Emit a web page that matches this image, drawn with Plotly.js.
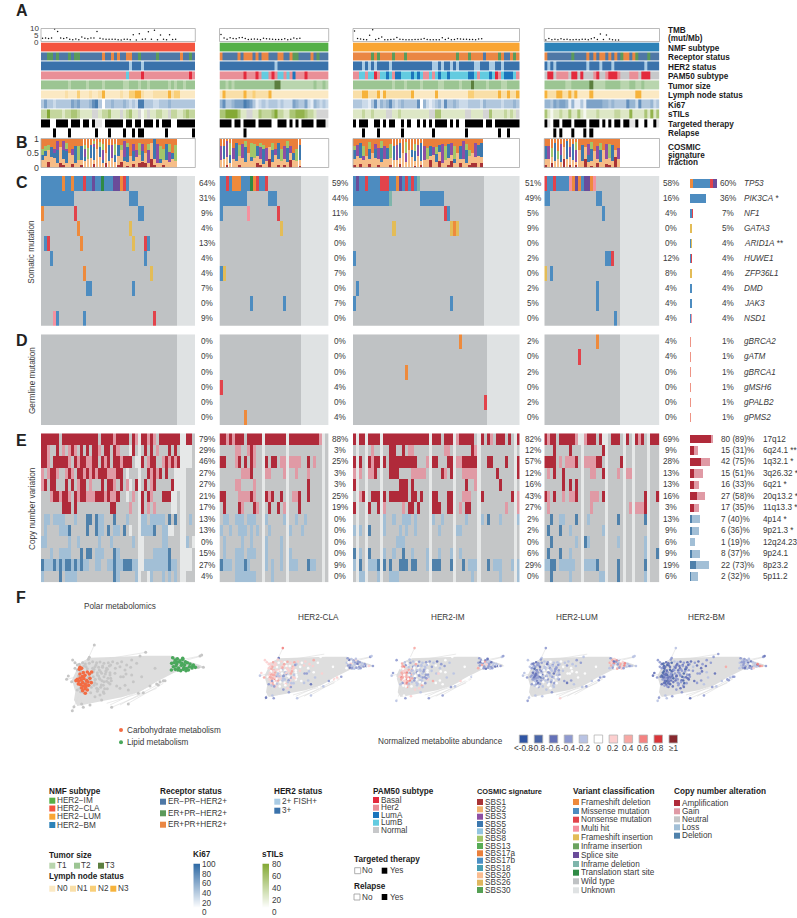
<!DOCTYPE html>
<html><head><meta charset="utf-8">
<script src="https://cdn.plot.ly/plotly-3.0.1.min.js"></script>
<style>html,body{margin:0;padding:0;background:#fff}#c{width:797px;height:918px}</style>
</head><body><div id="c"></div>
<script>
/* ---------- categories ---------- */
const trackLabels=["NMF subtype","Receptor status","HER2 status","PAM50 subtype","Tumor size","Lymph node status","Ki67","sTILs","Targeted therapy","Relapse"];
const genes=["TP53","PIK3CA","NF1","GATA3","ARID1A","HUWE1","ZFP36L1","DMD","JAK3","NSD1"];
const geneStars=[""," *","",""," **","","","","",""];
const germGenes=["gBRCA2","gATM","gBRCA1","gMSH6","gPALB2","gPMS2"];
const cytobands=["17q12","6q24.1 **","1q32.1 *","3q26.32 *","6q21 *","20q13.2 *","11q13.3 *","4p14 *","9p21.3 *","12q24.23","9p24.1","8p23.2","5p11.2"];
const cnvCounts=["80 (89)%","15 (31)%","42 (75)%","15 (51)%","16 (33)%","27 (58)%","17 (35)%","7 (40)%","6 (36)%","1 (19)%","8 (37)%","22 (73)%","2 (32)%"];

/* ---------- per-patient tracks (run-length: count + code) ---------- */
const nmf=["51C","36I","55L","38B"];
const receptor=[
"2B2G1B1G3B1G1B2G7B1O2B1O1B1O2B2O2B1G5B1G7B1O2B1G1B",
"1O5B1O1B3O1B1O1B2O3B2O2B1O2G4B1O1B1G3B",
"6O1G1O1G4O1G3O1G16O1G3O1G4O1B4O1G1O2B1O1G1O",
"1O8B1G4B1O1B1O1B2O1B1O1B1O1B1G2O1B1O1G3B1G3B"];
const her2=["29H1L3H1L17H","18H1L17H","3H1L1H1L1H1L4H1L13H2L1H1L2H1L1H1L5H2L3H2L2H1L5H","1H1L1H1L10H1L3H1L3H1L10H1L4H"];
const pam50=["28P1C4P1R15P1R1P","8P1R3P1R1P2C1P1R1P2C1P1C1P1A3P1R7P",
"2P2C1P2C1R1P2C1A1C1P2A3C1A1C1A1C2P1C1P1C1A2C1A6C2A1C1P3C1A1C1R1P1C3A1C1P",
"1N2R1N4P1N2R1N1R3N1P1R2N1P3R1P3N3P1N3R3N"];
const tumor=["9b1a5b1a4b1a6b2a3b1a2b1a6b1a1b1a2b1a3b","2b1a1b1a13b2c11a1b2a1b1a",
"13b1a3b1a4b1a5b2a5b1a3b1c4b1a4b2a4b2a3b","7b2a6b1c4a5b3a2b2a1b4a"];
const lymph=["8a1b3a1c3a1b2a1b1d5a1b2a2c2d1b3a5b1d1b2c5a","1a1d6b1d2b1c4b1d19a",
"3b2d3b1d1a1d8b1d7a1d10a2c1b7b1d2b1d2b1d","1d3b2d2b1d1b1d4a1d14a2d6a"];
const ki67=["35332 33333 54533 34673 03343 33432 32773 33223 33433 33333 3",
"46334 55576 53123 23332 32225 43352 14323 2",
"33322 13624 34632 34333 36042 12342 63343 22233 33243 33332 33343",
"44354 55414 11315 55554 43433 33644 26333 423"];
const stils=["22522 22122 33211 11XX1 22311 1X123 11X01 X1122 11X22 11232 22X11 1",
"33555 5311X X1132 22352 21133 44432 21XXX X",
"11121 12111 1XX11 21111 11111 XX331 11111 11XX1 111XX 31111 2121X",
"31011 21131 13101 11211 11122 11141 11131 413"];
const targeted=["3Y2N4Y1N3Y1N2Y1N1Y2X1N6Y1N2Y1N2Y1N3Y1N1Y1N3Y2N6Y",
"4Y1N2Y1N4Y1N4Y2N3Y1N1Y1N1Y1N4Y1N3Y1X",
"1Y1N3Y2N2Y1N1Y1N2Y2N1Y1N1Y2N1Y1N1Y1N1Y1N4Y1N1Y1N1Y2N6Y1N2Y1N8Y",
"1Y1X1N2Y1N3Y1N4Y1N3Y1N1Y1N1Y1N2Y1N2Y2X1Y2N1Y2N1Y1X"];
const relapse=["4N1Y4N1Y8N1Y3N1Y4N1Y2N1Y1N2Y7N1Y8N1Y","8N1Y27N",
"3N1Y4N1Y7N1Y9N1Y10N1Y10N1Y2N1Y3N","3N1Y1N1Y3N1Y3N1Y1N1Y22N"];

/* ---------- TMB ---------- */
const tmb1=[2.3,2.6,2.2,2.6,9.8,7.8,2.5,2.2,2.8,1.6,1.2,1.8,1.2,3.4,2.4,1.9,2.5,2.6,7.8,2.4,1.8,1.5,1.6,1.5,1.5,1.2,1.0,1.5,1.6,1.2,5.2,1.0,6.1,1.6,1.8,7.7,1.6,8.8,1.2,5.0,1.5,1.2,5.3,1.3,1.6];
const tmb2=[5.5,2.5,1.6,2.8,2.2,2.0,2.8,3.0,2.2,1.4,1.6,1.8,1.6,1.2,2.4,2.0,1.8,1.6,1.4,1.3,1.4,2.0,1.2,1.6,2.6,2.0,2.4];
const tmb3=[8.3,2.2,1.8,1.4,1.2,4.7,9.2,1.4,2.1,3.3,1.2,1.1,1.3,1.6,3.0,1.6,1.4,1.2,1.2,1.2,1.3,1.4,1.6,2.1,1.4,1.2,1.1,1.1,1.2,2.8,1.4,2.4,1.1,1.4,2.0,1.8,1.6,1.5,1.3,1.4,1.2,1.8,1.9];
const tmb4=[1,2.2,1.2,1.6,1.2,1.9,1.4,1.6,1.2,1.1,1.4,1.2,1.6,1.6,1.2,2,2.8,1.4,5.8,1.4,5,1.8,1.2,1.0,1.0];

/* ---------- COSMIC signature weights per patient (estimated, relative) ---------- */
const sigSBS1=["00200 01100 10010 00200 01000 12010 20231 02100 10000","00100 01000 00210 02001 01020 01","10200 20010 00100 20000 10100 30020 01300 20011 202","10200 02010 20020 10200 21030"];
const sigSBS2=["35444 34332 32323 33344 32333 34322 23412 34322 23333","34423 33432 34332 33343 23322 23","34332 33423 43334 33433 34233 23332 33323 24332 343","34332 33433 23333 34233 33323"];
const sigSBS5=["22042 80490 08062 04804 20804 40280 60060 00902 06020","06040 80090 20408 00608 00802 08","40800 60408 04060 80002 60800 40420 06020 60800 046","60080 40906 00804 80060 00800"];
const sigSBS3=["00002 60420 20004 00200 60040 00800 42040 80080 00600","60804 00600 00060 60020 06020 00","04020 00240 60008 00600 04060 02008 00600 08000 600","06000 60040 80006 00600 80004"];
const sigSBS8=["22200 00040 00602 40202 40006 02020 00600 40006 40408","00060 04040 66022 00400 40400 40","20040 40004 00600 00800 40004 00400 60060 00420 000","00402 00000 60000 40040 06000"];
const sigSBS17a=["43234 12132 33333 32121 33323 22123 33233 31023 42353","33123 22212 22323 42232 33124 33","32233 23231 33233 23223 32233 32422 32233 31343 222","33423 32132 22323 23322 32333"];

/* ---------- somatic mutation rows ---------- */
const somatic1=["7M1F2M1F3M1N2M1S2M1L3M2S1F1N1M16W6U","11M18W3M13W6U","1F10W1N20W2M11W6U","12W1F16W1I15W6U","1W1M1N10W1F16W1I3W1N1M9W6U","3W1M30W1M10W6U","14W1F21W1I8W6U","15W2M13W1M14W6U","45W6U","4W1H1M8W1M22W1N7W6U"];
const somatic2=["2M1N1M3F3M1L1F1N2M1N11W9U","9M7W3M8W9U","1M8W1H9W1N7W9U","20W1I6W9U","27W9U","27W9U","1M1I25W9U","27W9U","10W1M10W1M5W9U","27W9U"];
const somatic3=["1M1S2M1N4M3N2M1F1S1M1N1M1N1M1D21W12U","12M1D9W8M13W12U","30W1N1M11W12U","13W1I18W1I1F1I8W12U","43W12U","1M42W12U","43W12U","1W1M41W12U","1M31W1M10W12U","43W12U"];
const somatic4=["1N2M1N4M1H1F1S1F1M2S1F1H8W13U","2M15W2M6W13U","19W1M5W13U","25W13U","25W13U","20W2M1N2W13U","1I1W1M22W13U","17W1M7W13U","17W1M7W13U","23W1M1W13U"];
const pctSomatic=[[64,31,9,4,13,4,4,7,0,9],[59,44,11,4,0,0,7,0,7,0],[51,49,5,9,0,2,0,2,5,0],[58,16,4,0,0,12,8,4,4,4]];
const totalSomatic=[60,36,7,5,4,4,4,4,4,4];

/* ---------- germline rows ---------- */
const germline1=["45W6U","45W6U","45W6U","45W6U","45W6U","45W6U"];
const germline2=["27W9U","27W9U","27W9U","1N26W9U","27W9U","8W1F18W9U"];
const germline3=["35W1F8W11U","44W11U","17W1F26W11U","44W11U","43W1N11U","44W11U"];
const germline4=["17W1F7W13U","11W1N13W13U","25W13U","25W13U","25W13U","25W13U"];
const pctGermline=[[0,0,0,0,0,0],[0,0,0,4,0,4],[2,0,2,0,2,0],[4,4,0,0,0,0]];
const totalGermline=[1,1,1,1,1,1];

/* ---------- copy number rows ---------- */
const cnv1=["6A1n12A1n4A1G4A1n1A1G1U2A1G1A1G1n7A2U2A1n",
"2A1G2n1A1n1G1n1G1A1G1n1A1n1A1n2A1G1n2A1n1A1G3n1U1A1n1G1n1A1n1A1n1G3n1A1n1A3n2U3n",
"2A1G1n5A1G1n1A1G2A2G2A1n1A1G1A1n2A1G3A1n1U1G1A1n1G2A2n1G1A1G1A1G3A2U1n1G1n",
"1G1n1G2A1G2n1G1A1G1n2A1G1A1G1A1G3A3G2A1n1U3n1G2n1A1G1A1G1A1n1A2n2U1A2n",
"1G1A1n2A3n1A1n1A1n1G2A1n1G3n1A1n2A1G1n1A1n1G1U1n2A1n1A1n1G1A5n1A2U3n",
"3n1G2A1G2A1G1n1A1G2A3G3A1G1A2G1A2n1U1n1G1n1G1A1n1A1G3n3A2U3n",
"7n3A1n1A11n2A4n1G3n1A1n1G1n1G5n2U3n",
"1n2l1n4l3n1l3n2d1n1d2l3n1d3n1l3n1U2l1n5l1n1d1n1d1n2U1n1l1n",
"1n1l4n3l1d5n1d2n1d2l1n1d1n2l1n1d1n1U3n4l1d2n2l2U3n",
"2l7n1l2n1l6n1l3n1l6n1l2n1U6n2l6n1l1n2U3n",
"3n1l2n4l3n1d1n2d1n3l3n1d1l7n1U3n5l1d4n1d2U3n",
"1d3l1d1l1d1l2d1l1d1l1d2l2n2l2n2l1d2l3d2l1n1U8l1d2l3n2U1n1l1n",
"1l5n1d1n4l12n1d1l5n2l2n1U1l3n1l1n1l1n1l6n2U3n"];
const cnv2=["2A1G1A1G3A1n5A1U7A1U10A1G1U1n",
"5n2G2n1G1A1G22n",
"2A3n1G1A1n1A1n1A1G3n1A1n2A1n2G1U4G2n1A1n1G3n",
"7n3G1A4n2G4n1G3n1G3n1G6n",
"5n2G4n1G17n1A5n",
"2A4n4G1A1G3n1A1G1A2n1A3n2G1A2n1A5n",
"1n1A4n1A1G3n1A1G3n1A2n1A1n2G3n1A8n",
"1n2l2n3l1n3l3n1l5n1l3n1l2n1l8n",
"1l2n1l2n3l1n1l1n1l3n1l6n1l3n1l6n",
"1n1l5n1l2n1l4n1l4n1l14n",
"1n1l3n3l1n3l3n1l4n1l2n1l12n",
"1d3l1n3l1d1l5n1l1n1l2n1l2n3l3n1d2l4n",
"5n7l5n1l18n"];
const cnv3=["1A1U2A1U4A1U15A1U3A1n3A1U1G5A1n1U1A1n1A1G1n3A1n1A1n1U1A",
"6n1G5n2A2n1A1n2G10n2G7n1A1G15n",
"1A1n1A2n1A1G2A1n1A1n9A3n1G1n2A3n2A1n2G5A3n2A4n1A3n1A",
"1G1n1G2n2G1A4n3A4n5G5n1A1G1n2A2n5G6n1A5n1A",
"1A14n3A1n1A17n1A2n1G7n1A7n",
"2n1G1A2n3A1n1A1n6A1n2A1n1A3n2A3n2A3n3G3n1A9n1A1n1G1n",
"1A4n1A2n1A1n1G5n1G1n2A1n1A4n3A2n2A2n1G1n2A11n1G3n1G",
"10n1l2n1l2n3l1n1l5n1l2n1l7n1l4n1l1n1d3n1l5n1l",
"1l1n1l2n1d4n1l4n1l1n1l2n1l7n1l5n2l19n",
"14n3l38n",
"1d1n1l2n1d4n1l2n1l2n1d2n1l4n1l3n1l3n1l2n1l19n",
"1l1n1d2n3l1d1n1d1n1d2n3d1n2d3n1l1n3d3n1d3n1d1n3l3n1d1n3l3n1l1n1l",
"2n2l4n1l3n3l24n1l8n1l5n1l"];
const cnv4=["1A1G2A1n5A1G1U1A1G3A1n1A1U1A1n3A1n1U1A1n1U1A1G1A1n1U3A",
"3n1A4n1A10n1A18n",
"4A1n1G1n3G1A2n4G2A1n1A4n1A12n1A",
"1n1G1n1A2n1A8n2G2n1A4n1G2n2G12n",
"6n1A1n1A1n1A27n",
"1A1G1n1A2n1G1n2G1A4n3G1n1A13n1A3n1A",
"1n1G13n1G12n1G1n3G1A4n",
"2n1d2n2l3n1d3n1l9n1d8n1d4n",
"1n1d3n1d2n1l10n1l14n1l3n1d",
"2n1d7n1l2n1d1l9n1l8n1l4n",
"1n1d3n1d2n1l24n1l3n1d",
"2l2d1n5l3n4l1d6n1d8n1d4n",
"2n1d5n1l9n2l4n1d8n1l5n"];
const cnvUnknown=[[32,46,47],[14,22,34],[1,4,9,25,33,41,53],[12,20,26,29,34]];
const pctCnv=[[79,29,46,27,27,21,17,13,13,0,15,27,4],[88,3,25,3,3,25,19,0,0,0,0,9,0],[82,12,57,12,16,43,27,2,2,0,6,29,0],[69,9,28,13,13,16,3,13,9,6,9,19,6]];

/* ---------- summary bars ---------- */
const sumFrameshift=[7.5,0,0,1,1,0,0,0,0,0];
const sumMissense=[37.5,36,4,0,1,3,1,4,4,3];
const sumNonsense=[7.5,0,2,0,1,1,0,0,0,0];
const sumMulti=[0,0,1,0,0,0,0,0,0,1];
const sumFsIns=[0,0,0,4,1,0,3,0,0,0];
const sumSplice=[7.5,0,0,0,0,0,0,0,0,0];
const germBarOrange=[1,0,1,0,0,1];
const germBarRed=[0,1,0,1,1,0];
const barAmp=[80,15,42,15,16,27,17,0,0,0,0,0,0];
const barGain=[9,16,33,36,17,31,18,0,0,0,0,0,0];
const barDel=[0,0,0,0,0,0,0,7,6,1,8,22,2];
const barLoss=[0,0,0,0,0,0,0,33,30,18,29,51,30];

/* ---------- metabolite network (picture units) ---------- */
const hullX=[245,270,440,515,600,612,590,525,470,420,365,310,232,222,226,216,232];
const hullY=[155,143,137,137,165,172,176,187,215,245,262,272,288,270,245,210,175];
const edgeX=[283,265,null,437,300,null,605,560,null,490,360,null,335,470,null,385,490,null,217,235,null,200,232,null,220,240,null,600,530,null,610,540,null,425,320,null,450,330,null,250,240,null,305,270];
const edgeY=[105,145,null,127,150,null,138,150,null,215,285,null,292,235,null,280,220,null,302,260,null,208,200,null,150,170,null,138,152,null,172,172,null,248,280,null,228,285,null,292,255,null,270,250];
const carbX=[240,245,238,250,262,268,275,255,247,240,232,228,236,244,252,260,270,248,256,264,274,242,250,258,266,235,245,255,262,248,256,240];
const carbY=[172,175,178,188,186,192,186,196,200,204,208,212,214,210,206,212,205,218,222,216,218,224,228,230,226,222,234,236,240,242,250,192];
const lipX=[518,525,532,540,548,556,515,522,530,538,546,554,562,570,578,586,520,528,536,544,552,560,568,576,526,534,542,550,558,514,530,548,565,580];
const lipY=[143,150,146,152,148,155,160,158,162,156,160,164,158,162,168,172,170,168,174,166,172,176,170,174,178,180,182,178,182,180,155,145,180,165];
const grayX=[283,437,420,218,225,232,268,265,278,290,300,312,325,338,352,365,380,395,285,296,308,320,332,346,360,375,392,410,280,292,305,318,330,345,362,378,395,225,232,240,205,200,215,285,298,312,330,350,375,425,450,470,480,490,335,385,217,222,250,270,305,245,600,605,610,590,595,465,430,415,400,385,370,360,495,475,290,310,285,300];
const grayY=[105,127,138,150,158,165,142,148,155,158,156,160,158,155,160,155,165,150,170,172,168,175,165,175,170,180,172,160,185,188,190,182,195,190,200,192,195,175,180,235,198,208,215,210,205,215,222,228,226,200,228,222,215,212,292,282,302,290,292,285,270,282,138,135,172,172,172,175,248,250,215,240,200,235,212,225,235,245,260,255];
const denseX=[238,248,258,268,278,288,298,308,318,328,242,252,262,272,282,292,302,312,322,332,236,246,256,266,276,286,296,306,316,326,240,250,260,270,280,290,300,310,320,330,244,254,264,274,284,294,304,314,324,334,232,242,252,262,272,282,292,302,312,322];
const denseY=[163,158,170,160,175,165,180,172,185,168,182,168,176,190,178,195,185,200,178,205,197,205,162,200,188,208,198,212,192,218,215,190,220,210,200,222,208,226,214,188,228,215,205,232,218,238,225,236,205,212,240,245,248,238,248,226,244,232,250,236];
/* abundance class per point: carbohydrate, lipid, other, dense */
const abundCLA="67676 56767 65767 36786 67567 67567 65 | 32436 34564 32345 23344 53432 34345 5433 | 85566 62665 76765 66765 67456 56545 67563 45566 64732 35546 36654 45235 34343 56545 42343 55636 | 67656 76563 76567 46765 67645 36576 76545 45665 36454 63445 34345 45434";
const abundIM ="78767 68877 66867 67588 75678 76876 76 | 33523 43237 43245 23736 33425 32347 5234 | 75535 55445 34334 23543 44535 43454 45544 55553 34554 36754 65543 34536 45435 53543 45655 54766 | 74533 75434 53445 34443 75534 55433 76544 53435 67543 44534 45545 34543";
const abundLUM="33423 24323 33423 22341 33243 34243 34 | 37683 57683 47685 37453 76843 57364 2534 | 35445 34343 54454 44354 34453 54345 43445 55435 44334 43335 45346 53454 34444 34534 54523 34445 | 22334 23433 13244 34233 22345 43334 23445 34553 43555 54345 34534 45345";
const abundBM ="12231 11322 12131 21322 13122 31212 21 | 34334 24334 25442 34334 23443 24334 3468 | 43333 23344 23223 23322 23342 22342 33533 24332 22323 32232 43432 34343 34323 87743 44333 33332 | 12213 22312 11222 33122 12233 23132 22323 33123 22323 32133 23322 23323";

/* ---------- legends ---------- */
const abundLabels=["<-0.8","-0.8","-0.6","-0.4","-0.2","0","0.2","0.4","0.6","0.8","≥1"];
const abundColors=["#2f55a4","#4a66a8","#6471b8","#8f9ad0","#b9c3e3","#ffffff","#fccfcf","#f7a8a4","#f38281","#d9353a","#87282e"];
const sigNames=["SBS1","SBS2","SBS3","SBS5","SBS6","SBS8","SBS13","SBS17a","SBS17b","SBS18","SBS20","SBS26","SBS30"];
const sigColors=["#a93336","#f1b26f","#8e4fa4","#3c78ae","#92c5e0","#a2c66a","#57ac56","#ea7f3b","#4a8fc4","#479eb3","#fbbd91","#dfb65e","#55a054"];
const variantNames=["Frameshift deletion","Missense mutation","Nonsense mutation","Multi hit","Frameshift insertion","Inframe insertion","Splice site","Inframe deletion","Translation start site","Wild type","Unknown"];
const variantColors=["#ee8a3c","#4d8cc0","#e2434b","#f5919f","#e3bc57","#6ba35f","#6b4c9a","#7fb5ab","#2f8a45","#bfc2c4","#dfe2e3"];
const cnaNames=["Amplification","Gain","Neutral","Loss","Deletion"];
const cnaColors=["#b02a3a","#e09aa5","#c4c6c7","#a2bfd6","#4f81ab"];
const nmfNames=["HER2−IM","HER2−CLA","HER2−LUM","HER2−BM"];
const nmfColors=["#55b047","#f4543f","#f9a533","#2c82b8"];
const recNames=["ER−PR−HER2+","ER+PR−HER2+","ER+PR+HER2+"];
const recColors=["#4f78a6","#5b9a5a","#ea8744"];
const pamNames=["Basal","Her2","LumA","LumB","Normal"];
const pamColors=["#e32a3d","#e98f97","#1b75bc","#63cbe0","#c7c8ca"];
const tumorColors=["#b9d5ae","#9cc593","#5c7f3f"];
const lymphColors=["#fbe9c3","#f9dfa8","#f9cf78","#f6b33c"];

/* ---------- drawing helpers ---------- */
const W=797,H=918,FONT='"Liberation Sans",Arial,sans-serif',INK='#3a3a3a',BOLD='#1c1c1c';
const traces=[],annotations=[],shapes=[];
const layout={width:W,height:H,margin:{l:0,r:0,t:0,b:0},paper_bgcolor:'#fff',plot_bgcolor:'rgba(0,0,0,0)',showlegend:false,
 barmode:'stack',bargap:0,font:{family:FONT,size:9,color:INK},hovermode:false,annotations,shapes};
let axisN=0;
function axes(x0,x1,y0,y1,xr,yr,yExtra){
  axisN++;const s=axisN===1?'':axisN;
  layout['xaxis'+s]={domain:[x0/W,x1/W],range:xr,visible:false,fixedrange:true,anchor:'y'+s,showgrid:false,zeroline:false};
  layout['yaxis'+s]=Object.assign({domain:[1-y1/H,1-y0/H],range:yr,visible:false,fixedrange:true,anchor:'x'+s,showgrid:false,zeroline:false},yExtra||{});
  return {xaxis:'x'+s,yaxis:'y'+s};
}
function text(t,x,y,o={}){
  const an=o.anchor||'left';
  annotations.push({text:t,x:(x+(an==='left'?-1:an==='right'?1:0))/W,y:1-y/H,xref:'paper',yref:'paper',showarrow:false,borderpad:0,
   xanchor:an,yanchor:'middle',align:an==='center'?'center':'left',textangle:o.rot||0,
   font:{family:FONT,size:o.size||8.2,color:o.color||INK}});
}
function bold(t,x,y,size){text('<b>'+t+'</b>',x,y,{size:size||8.2,color:BOLD});}
function box(x0,y0,x1,y1,fill,line){
  shapes.push({type:'rect',xref:'paper',yref:'paper',x0:x0/W,x1:x1/W,y0:1-y0/H,y1:1-y1/H,fillcolor:fill,layer:'above',
   line:line?{color:line,width:0.8}:{width:0}});
}
function dot(x,y,r,fill){
  shapes.push({type:'circle',xref:'paper',yref:'paper',x0:(x-r)/W,x1:(x+r)/W,y0:1-(y-r)/H,y1:1-(y+r)/H,fillcolor:fill,line:{width:0}});
}
function rle(s,n){
  const out=[];(s.match(/\d+[A-Za-z]/g)||[]).forEach(t=>{const k=parseInt(t);for(let i=0;i<k;i++)out.push(t.slice(-1));});
  while(out.length<n)out.push(out[out.length-1]);
  return out.slice(0,n);
}
function digits(s){return s.replace(/\s/g,'').split('');}
function lerp(c,t){
  const h=[1,3,5].map(i=>parseInt(c.substr(i,2),16));
  return 'rgb('+h.map(v=>Math.round(255+(v-255)*t)).join(',')+')';
}
const palette=[];
function pid(c){let i=palette.indexOf(c);if(i<0){palette.push(c);i=palette.length-1;}return i;}
const heatTraces=[];
function heat(z,ax,gap){
  const t=Object.assign({type:'heatmap',z,xgap:0,ygap:gap||0,showscale:false,hoverinfo:'skip'},ax);
  heatTraces.push(t);traces.push(t);
}

/* ---------- geometry ---------- */
const colX=[[41,195.3],[219.5,328.7],[353,519.5],[544.3,659.5]];
const N=[51,36,55,38];
const pctX=[207,339.7,532.7,670.7];

/* code maps */
const mapNmf={C:nmfColors[1],I:nmfColors[0],L:nmfColors[2],B:nmfColors[3]};
const mapRec={B:recColors[0],G:recColors[1],O:recColors[2]};
const mapHer={H:'#3a72ab',L:'#a9cbe4'};
const mapPam={R:pamColors[0],P:pamColors[1],A:pamColors[2],C:pamColors[3],N:pamColors[4]};
const mapTum={a:tumorColors[0],b:tumorColors[1],c:tumorColors[2]};
const mapLym={a:lymphColors[0],b:lymphColors[1],c:lymphColors[2],d:lymphColors[3]};
const mapBin={Y:'#000000',N:'#ffffff',X:'#e4e4e4'};
const mapVar={F:variantColors[0],M:variantColors[1],N:variantColors[2],H:variantColors[3],I:variantColors[4],T:variantColors[5],S:variantColors[6],D:variantColors[7],L:variantColors[8],W:variantColors[9],U:variantColors[10]};
const mapCna={A:cnaColors[0],G:cnaColors[1],n:cnaColors[2],l:cnaColors[3],d:cnaColors[4],U:'#e6e8e8'};
const kiTop='#2f6aa5',tilTop='#84a935';

/* ---------- A + B + C + D + E per cohort ---------- */
const tmbs=[tmb1,tmb2,tmb3,tmb4];
const somatics=[somatic1,somatic2,somatic3,somatic4];
const germlines=[germline1,germline2,germline3,germline4];
const cnvs=[cnv1,cnv2,cnv3,cnv4];
const sigSeries=[[sigSBS1,'#a93336'],[sigSBS2,'#f6bd87'],[sigSBS5,'#3c78ae'],[sigSBS3,'#8e4fa4'],[sigSBS8,'#a2c66a'],[sigSBS17a,'#ea7f3b']];

for(let c=0;c<4;c++){
  const [x0,x1]=colX[c],n=N[c],xr=[-0.5,n-0.5];
  const a=axes(x0,x1,28.5,41.5,xr,[-0.3,10.3]);
  traces.push(Object.assign({type:'scatter',mode:'markers',x:tmbs[c].map((_,i)=>i),y:tmbs[c],marker:{size:1.5,color:'#111'},cliponaxis:false},a));
  box(x0,28.5,x1,41.5,'rgba(0,0,0,0)','#a9a9a9');
  const rows=[
    rle(nmf[c],n).map(k=>mapNmf[k]),
    rle(receptor[c],n).map(k=>mapRec[k]),
    rle(her2[c],n).map(k=>mapHer[k]),
    rle(pam50[c],n).map(k=>mapPam[k]),
    rle(tumor[c],n).map(k=>mapTum[k]),
    rle(lymph[c],n).map(k=>mapLym[k]),
    digits(ki67[c]).slice(0,n).map(d=>lerp(kiTop,Math.min(1,+d/8))),
    digits(stils[c]).slice(0,n).map(d=>d==='X'?'#d4d4d4':lerp(tilTop,Math.min(1,.08+(+d)/5))),
    rle(targeted[c],n).map(k=>mapBin[k]),
    rle(relapse[c],n).map(k=>mapBin[k])
  ];
  heat(rows.map(r=>r.map(pid)),axes(x0,x1,42.4,138.2,xr,[9.5,-0.5]),1);
  const b=axes(x0,x1,138.5,167.5,xr,[0,1.02],c===0?{visible:true,showline:false,ticks:'',tickvals:[0,0.5,1],ticktext:['0','0.5','1'],tickfont:{size:8.8,color:INK},ticklen:0,ticklabelstandoff:1}:{});
  const sigVals=sigSeries.map(s=>digits(s[0][c]).map(Number));
  const tot=sigVals[0].map((_,i)=>sigVals.reduce((q,v)=>q+(v[i]||0),0));
  sigVals.forEach((v,k)=>traces.push(Object.assign({type:'bar',x:v.map((_,i)=>i),y:v.map((d,i)=>d/tot[i]),width:0.9,marker:{color:sigSeries[k][1],line:{width:0}},hoverinfo:'skip'},b)));
  box(x0,138.5,x1,167.5,'rgba(0,0,0,0)','#a9a9a9');
  heat(somatics[c].map(s=>rle(s,n).map(k=>pid(mapVar[k]))),axes(x0,x1,176,325.7,xr,[9.5,-0.5]));
  pctSomatic[c].forEach((p,i)=>text(p+'%',pctX[c],176+(i+.5)*14.97,{anchor:'center'}));
  heat(germlines[c].map(s=>rle(s,n).map(k=>pid(mapVar[k]))),axes(x0,x1,334.3,425,xr,[5.5,-0.5]));
  pctGermline[c].forEach((p,i)=>text(p+'%',pctX[c],334.3+(i+.5)*15.12,{anchor:'center'}));
  heat(cnvs[c].map(s=>{const r=rle(s,n);cnvUnknown[c].forEach(g=>r[g]='U');return r.map(k=>pid(mapCna[k]));}),axes(x0,x1,433.3,582.3,xr,[12.5,-0.5]));
  pctCnv[c].forEach((p,i)=>text(p+'%',pctX[c],433.3+(i+.5)*11.46,{anchor:'center'}));
}

/* ---------- summary bars ---------- */
const rowsC=genes.map((_,i)=>i),rowsD=germGenes.map((_,i)=>i),rowsE=cytobands.map((_,i)=>i);
const axC=axes(690,734.5,176,325.7,[0,100],[9.5,-0.5]);
[[sumFrameshift,0],[sumMissense,1],[sumNonsense,2],[sumMulti,3],[sumFsIns,4],[sumSplice,6]].forEach(([v,k])=>traces.push(Object.assign({type:'bar',orientation:'h',y:rowsC,x:v,width:0.62,marker:{color:variantColors[k],line:{width:0}},hoverinfo:'skip'},axC)));
const axD=axes(690,734.5,334.3,425,[0,100],[5.5,-0.5]);
[[germBarOrange,0],[germBarRed,2]].forEach(([v,k])=>traces.push(Object.assign({type:'bar',orientation:'h',y:rowsD,x:v,width:0.62,marker:{color:variantColors[k],line:{color:variantColors[k],width:0.5}},opacity:.55,hoverinfo:'skip'},axD)));
const axE=axes(690,716,433.3,582.3,[0,100],[12.5,-0.5]);
[[barAmp,0],[barGain,1],[barDel,4],[barLoss,3]].forEach(([v,k])=>traces.push(Object.assign({type:'bar',orientation:'h',y:rowsE,x:v,width:0.72,marker:{color:cnaColors[k],line:{width:0}},hoverinfo:'skip'},axE)));
genes.forEach((g,i)=>{
  const y=176+(i+.5)*14.97;
  text(totalSomatic[i]+'%',727.7,y,{anchor:'center'});
  text('<i>'+g+'</i>'+geneStars[i],743.7,y);
});
germGenes.forEach((g,i)=>{
  const y=334.3+(i+.5)*15.12;
  text(totalGermline[i]+'%',727.7,y,{anchor:'center'});
  text('<i>'+g+'</i>',743.7,y);
});
cytobands.forEach((g,i)=>{
  const y=433.3+(i+.5)*11.46;
  text(cnvCounts[i],721,y);
  text(g,763.3,y);
});

/* ---------- track labels ---------- */
bold('TMB',668,31);bold('(mut/Mb)',668,38.5);
trackLabels.forEach((t,i)=>bold(t,668,[48.5,58,67.5,77,86.7,96,105.3,114.7,124.3,133.7][i]));
bold('COSMIC',668,147.5);bold('signature',668,155);bold('fraction',668,162);
[['A',11],['B',142.7],['C',183],['D',340.7],['E',440.7],['F',597.3]].forEach(([t,y])=>text('<b>'+t+'</b>',16,y,{size:16,color:'#222'}));
text('Somatic mutation',32,251.7,{anchor:'center',rot:-90});
text('Germline mutation',32,380,{anchor:'center',rot:-90});
text('Copy number variation',32,508,{anchor:'center',rot:-90});
[['10',28.4],['5',35.7],['0',42.7]].forEach(([t,y])=>text(t,39,y,{anchor:'right',size:8}));

/* ---------- F: networks ---------- */
const netXr=[190,620],netYr=[310,95];
const allX=carbX.concat(lipX,grayX,denseX),allY=carbY.concat(lipY,grayY,denseY);
function netBase(a){
  traces.push(Object.assign({type:'scatter',mode:'lines',x:hullX.concat(hullX[0]),y:hullY.concat(hullY[0]),fill:'toself',fillcolor:'#dedede',line:{width:0},hoverinfo:'skip'},a));
  traces.push(Object.assign({type:'scatter',mode:'lines',x:edgeX,y:edgeY,line:{color:'#dcdcdc',width:0.6},hoverinfo:'skip'},a));
}
const a0=axes(63.3,206.7,641.7,713.3,netXr,netYr);
netBase(a0);
traces.push(Object.assign({type:'scatter',mode:'markers',x:grayX.concat(denseX),y:grayY.concat(denseY),marker:{size:3,color:'#c6c6c6'},hoverinfo:'skip'},a0));
traces.push(Object.assign({type:'scatter',mode:'markers',x:carbX,y:carbY,marker:{size:3.6,color:'#f26b43'},hoverinfo:'skip'},a0));
traces.push(Object.assign({type:'scatter',mode:'markers',x:lipX,y:lipY,marker:{size:3.6,color:'#4aa85c'},hoverinfo:'skip'},a0));
[[257.2,'HER2-CLA',318,abundCLA],[388.9,'HER2-IM',447.7,abundIM],[520.2,'HER2-LUM',576.7,abundLUM],[650.2,'HER2-BM',706,abundBM]].forEach(([x,t,tx,vals])=>{
  const a=axes(x,x+118.5,645.4,703,netXr,netYr);
  netBase(a);
  const v=vals.replace(/[\s|]/g,'').split('').map(Number);
  traces.push(Object.assign({type:'scatter',mode:'markers',x:allX,y:allY,marker:{size:2.6,color:v.map(d=>abundColors[d]),opacity:.9},hoverinfo:'skip'},a));
  text(t,tx,617.7,{anchor:'center'});
});
text('Polar metabolomics',120,606,{anchor:'center'});
dot(121,730,2,'#f26b43');text('Carbohydrate metabolism',127,730);
dot(121,742.3,2,'#4aa85c');text('Lipid metabolism',127,742.3);
text('Normalized metabolite abundance',378,741.7);
abundLabels.forEach((t,i)=>{
  const x=519.3+i*14.97;
  box(x,735,x+8.5,743,abundColors[i],'#b5b5b5');
  text(t,x+4.2,748.3,{anchor:'center'});
});

/* ---------- bottom legends ---------- */
function legend(title,tx,ty,names,colors,sx,lx,ys,tsize){
  bold(title,tx,ty,tsize);
  names.forEach((n,i)=>{box(sx,ys[i]-3,sx+6,ys[i]+3,colors[i]);text(n,lx,ys[i]);});
}
legend('NMF subtype',49,791,nmfNames,nmfColors,49.3,57.3,[800.7,808.5,816.7,825]);
legend('Receptor status',160,791,recNames,recColors,160,167.7,[801.7,813.3,824.7]);
legend('HER2 status',274.3,791,['2+ FISH+','3+'],['#a9cbe4','#3a72ab'],274.3,282,[801.7,810.7]);
legend('PAM50 subtype',372.7,791,pamNames,pamColors,373,380.7,[800,807.7,815,822.7,830]);
legend('COSMIC signature',476.7,791,sigNames,sigColors,477,485,[802,809.3,816.7,824,831.3,838.7,846,853.3,860.7,868,875.3,882.7,890],7.4);
legend('Variant classification',572.7,791,variantNames,variantColors,573,580.7,[802,811,819.7,828.7,837.3,846.3,855,864,872.7,881.3,890.3]);
legend('Copy number alteration',673.7,791,cnaNames,cnaColors,674,681.7,[803,811.3,819.3,827.3,835.7]);
bold('Tumor size',49,855);
[['T1',49.3,57.3],['T2',74,81.3],['T3',98,105.3]].forEach(([t,s,l],i)=>{box(s,862.7,s+6,868.7,tumorColors[i]);text(t,l,865.7);});
bold('Lymph node status',49,876.7);
[['N0',49.3,57.3],['N1',70,77.3],['N2',90,97.7],['N3',110.3,117.7]].forEach(([t,s,l],i)=>{box(s,885.7,s+6,891.7,lymphColors[i]);text(t,l,888.7);});
bold('Targeted therapy',354.3,859.7);
box(354.7,867.7,360.7,873.7,'#fff','#999');text('No',362.3,870.7);box(381.7,867.7,387.3,873.7,'#000');text('Yes',389.7,870.7);
bold('Relapse',354,886.3);
box(354,894,360,900,'#fff','#999');text('No',362,897);box(381.7,894,387.3,900,'#000');text('Yes',389.7,897);
const kiTicks=[[100,864.7],[80,874.3],[60,883.7],[40,893.3],[20,903],[0,912.7]];
const tilTicks=[[80,864.7],[60,876.3],[40,888.3],[20,900.7],[0,912.7]];
bold('Ki67',193,854);bold('sTILs',262.3,854);
traces.push(Object.assign({type:'heatmap',z:[[0,0],[100,100]],zsmooth:'best',zmin:0,zmax:100,showscale:false,colorscale:[[0,'#ffffff'],[1,kiTop]],hoverinfo:'skip'},axes(193.3,200,863.5,907.3,[0,1],[0,1])));
traces.push(Object.assign({type:'heatmap',z:[[0,0],[100,100]],zsmooth:'best',zmin:0,zmax:100,showscale:false,colorscale:[[0,'#ffffff'],[1,tilTop]],hoverinfo:'skip'},axes(262.3,269,863.5,907.3,[0,1],[0,1])));
kiTicks.forEach(([v,y])=>text(String(v),202.3,y));
tilTicks.forEach(([v,y])=>text(String(v),271.7,y));

const K=palette.length;
const cs=[];palette.forEach((c,i)=>{cs.push([i/K,c]);cs.push([(i+1)/K,c]);});
heatTraces.forEach(t=>{t.colorscale=cs;t.zmin=-0.5;t.zmax=K-0.5;});

Plotly.newPlot('c',traces,layout,{staticPlot:true,displayModeBar:false});
</script></body></html>
